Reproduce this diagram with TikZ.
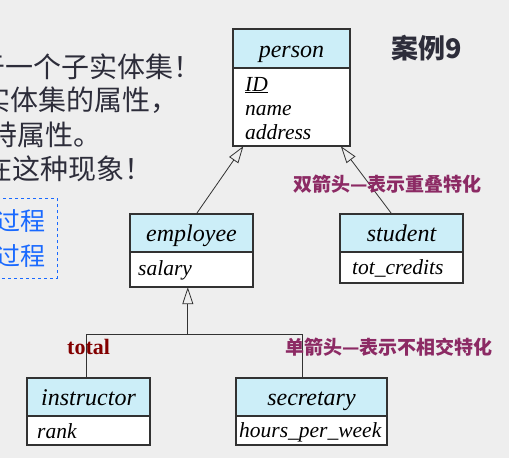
\documentclass[tikz,border=0pt]{standalone}
\usepackage{fontspec}
\setmainfont{Liberation Serif}
\newfontfamily\cjk{Noto Sans CJK SC}
\usetikzlibrary{arrows.meta,calc}

\definecolor{bgcol}{RGB}{238,238,238}
\definecolor{hdrcol}{RGB}{204,238,248}
\definecolor{linecol}{RGB}{50,50,50}
\definecolor{inkcol}{RGB}{45,45,58}
\definecolor{notecol}{RGB}{140,42,100}
\definecolor{totalcol}{RGB}{130,0,0}
\definecolor{bluecol}{RGB}{25,105,255}

\tikzset{
  boxline/.style={draw=linecol, line width=1.1pt},
  hdrtext/.style={font=\fontsize{24}{28}\selectfont\itshape, inner sep=0pt, anchor=base, text=black},
  attrtext/.style={font=\fontsize{21.5}{24}\selectfont\itshape, inner sep=0pt, anchor=base west, text=black},
  isa/.style={draw=linecol, line width=0.8pt, -{Triangle[open, length=17pt, width=11pt]}},
  link/.style={draw=linecol, line width=0.8pt},
  note/.style={font=\cjk\bfseries\fontsize{19}{22}\selectfont, text=notecol, inner sep=0pt, anchor=base west},
  lefttext/.style={font=\cjk\fontsize{28}{31}\selectfont, text=inkcol, inner sep=0pt, anchor=base west},
  bluetext/.style={font=\cjk\fontsize{25}{28}\selectfont, text=bluecol, inner sep=0pt, anchor=base west},
}

% entity box: name, x1, y1, x2, y2, header bottom, title
\newcommand{\erbox}[7]{%
  \fill[hdrcol] (#2,#3) rectangle (#4,#6);
  \fill[white] (#2,#6) rectangle (#4,#5);
  \node[minimum width={#4-#2}, minimum height={#5-#3}, inner sep=0pt] (#1) at ({(#2+#4)/2},{(#3+#5)/2}) {};
  \draw[boxline] (#2,#3) rectangle (#4,#5);
  \draw[boxline] (#2,#6) -- (#4,#6);
  \node[hdrtext] (#1-title) at ({(#2+#4)/2},{#6-11}) {#7};
}

\begin{document}
\begin{tikzpicture}[x=1pt, y=-1pt]
  \useasboundingbox (0,0) rectangle (509,458);
  \clip (0,0) rectangle (509,458);
  \fill[bgcol] (0,0) rectangle (509,458);

  % explanatory text on the left, running off the left edge
  \node[lefttext] (l1) at (-23,77) {于一个子实体集！};
  \node[lefttext] (l2) at (-18,110) {实体集的属性，};
  \node[lefttext] (l3) at (-11,145) {特属性。};
  \node[lefttext] (l4) at (-16,179) {在这种现象！};

  % dashed blue box
  \draw[bluecol, dashed, line width=0.8pt] (-20,198) rectangle (57,278);
  \node[bluetext] (b1) at (-30,230) {化过程};
  \node[bluetext] (b2) at (-30,265) {化过程};

  % title
  \node[font=\cjk\bfseries\fontsize{27}{30}\selectfont, text=inkcol, inner sep=0pt, anchor=west] (title) at (391,48) {案例9};

  % entity boxes
  \erbox{person}{233}{29}{350}{146}{68}{person}
  \erbox{employee}{130}{214}{253}{287}{252}{employee}
  \erbox{student}{340}{214}{463}{283}{252}{student}
  \erbox{instructor}{27}{378}{150}{445}{416}{instructor}
  \erbox{secretary}{236}{378}{387}{445}{416}{secretary}

  % attributes
  \node[attrtext] (p-id) at (245,91) {\underline{ID}};
  \node[attrtext] (p-name) at (245,115) {name};
  \node[attrtext] (p-addr) at (245,139) {address};
  \node[attrtext] (e-sal) at (138,275) {salary};
  \node[attrtext] (s-tot) at (352,274) {tot\_credits};
  \node[attrtext] (i-rank) at (37,438) {rank};
  \node[attrtext] (c-hours) at (239,437) {hours\_per\_week};

  % specialization connectors
  \draw[isa] ($(employee.north west)!0.54!(employee.north east)$) -- ($(person.south west)!0.09!(person.south east)$);
  \draw[isa] ($(student.north west)!0.42!(student.north east)$) -- ($(person.south west)!0.92!(person.south east)$);

  \coordinate (join) at ($(employee.south west)!0.47!(employee.south east) + (0,47)$);
  \draw[isa] (join) -- ($(employee.south west)!0.47!(employee.south east)$);
  \draw[link] ($(instructor.north west)!0.48!(instructor.north east)$) |- (join)
    -| ($(secretary.north west)!0.44!(secretary.north east)$);

  % annotations
  \node[note] (overlap) at (293,191) {双箭头—表示重叠特化};
  \node[note] (disjoint) at (285,354) {单箭头—表示不相交特化};
  \node[font=\bfseries\fontsize{22}{24}\selectfont, text=totalcol, inner sep=0pt, anchor=base west] (total) at (67,354) {total};
\end{tikzpicture}
\end{document}
